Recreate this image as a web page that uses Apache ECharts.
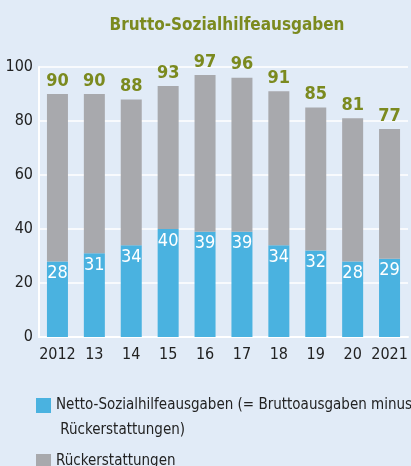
<!DOCTYPE html>
<html>
<head>
<meta charset="utf-8">
<script src="https://cdn.jsdelivr.net/npm/echarts@6/dist/echarts.min.js"></script>
<style>
  html, body { margin: 0; padding: 0; background: #e1ebf7; }
  #chart { width: 411px; height: 466px; }
</style>
</head>
<body>
<div id="chart"></div>
<script>
const years = ['2012', '13', '14', '15', '16', '17', '18', '19', '20', '2021'];
const gross = [90, 90, 88, 93, 97, 96, 91, 85, 81, 77];
const net = [28, 31, 34, 40, 39, 39, 34, 32, 28, 29];
const netName = 'Netto-Sozialhilfeausgaben (= Bruttoausgaben minus\n Rückerstattungen)';
const refundName = 'Rückerstattungen';

// Rückerstattungen = Brutto - Netto
const refund = gross.map((g, i) => g - net[i]);

const font = '"Liberation Sans Narrow", "DejaVu Sans Condensed", sans-serif';
const olive = '#7b8a1f';

const chart = echarts.init(document.getElementById('chart'));

chart.setOption({
  backgroundColor: '#e1ebf7',
  animation: false,
  textStyle: { fontFamily: font },
  title: {
    text: 'Brutto-Sozialhilfeausgaben',
    left: 222,
    textAlign: 'center',
    top: 12,
    textStyle: { fontFamily: font, fontSize: 17, fontWeight: 'bold', color: olive }
  },
  legend: [
    {
      data: [netName],
      left: 31,
      top: 363,
      itemWidth: 15,
      itemHeight: 15,
      icon: 'rect',
      // leere erste Zeile, damit das Symbol auf Höhe der ersten Textzeile sitzt
      formatter: name => '\n' + name,
      textStyle: { fontFamily: font, fontSize: 15, color: '#222', lineHeight: 25 }
    },
    {
      data: [refundName],
      left: 31,
      top: 449,
      itemWidth: 15,
      itemHeight: 15,
      icon: 'rect',
      textStyle: { fontFamily: font, fontSize: 15, color: '#222' }
    }
  ],
  grid: { left: 39, right: 3, top: 67, bottom: 129 },
  xAxis: {
    type: 'category',
    data: years,
    axisLine: { lineStyle: { color: '#ffffff', width: 2 } },
    axisTick: { inside: true, length: 5, lineStyle: { color: '#ffffff', width: 2 } },
    axisLabel: { interval: 0, fontFamily: font, fontSize: 16, color: '#222', margin: 10 }
  },
  yAxis: {
    type: 'value',
    min: 0,
    max: 100,
    interval: 20,
    axisLine: { show: true, lineStyle: { color: '#ffffff', width: 2 } },
    axisTick: { show: false },
    axisLabel: { fontFamily: font, fontSize: 16, color: '#222', margin: 6 },
    splitLine: { lineStyle: { color: '#ffffff', width: 1.5 } }
  },
  series: [
    {
      name: netName,
      type: 'bar',
      stack: 'total',
      barWidth: 21,
      data: net,
      itemStyle: { color: '#4ab2e0' },
      label: {
        show: true,
        position: 'insideTop',
        distance: 3,
        color: '#ffffff',
        fontFamily: font,
        fontSize: 18
      }
    },
    {
      name: refundName,
      type: 'bar',
      stack: 'total',
      barWidth: 21,
      data: refund,
      itemStyle: { color: '#a8a9ad' },
      label: {
        show: true,
        position: 'top',
        distance: 4,
        color: olive,
        fontFamily: font,
        fontSize: 18,
        fontWeight: 'bold',
        formatter: p => gross[p.dataIndex]
      }
    }
  ]
});
</script>
</body>
</html>
